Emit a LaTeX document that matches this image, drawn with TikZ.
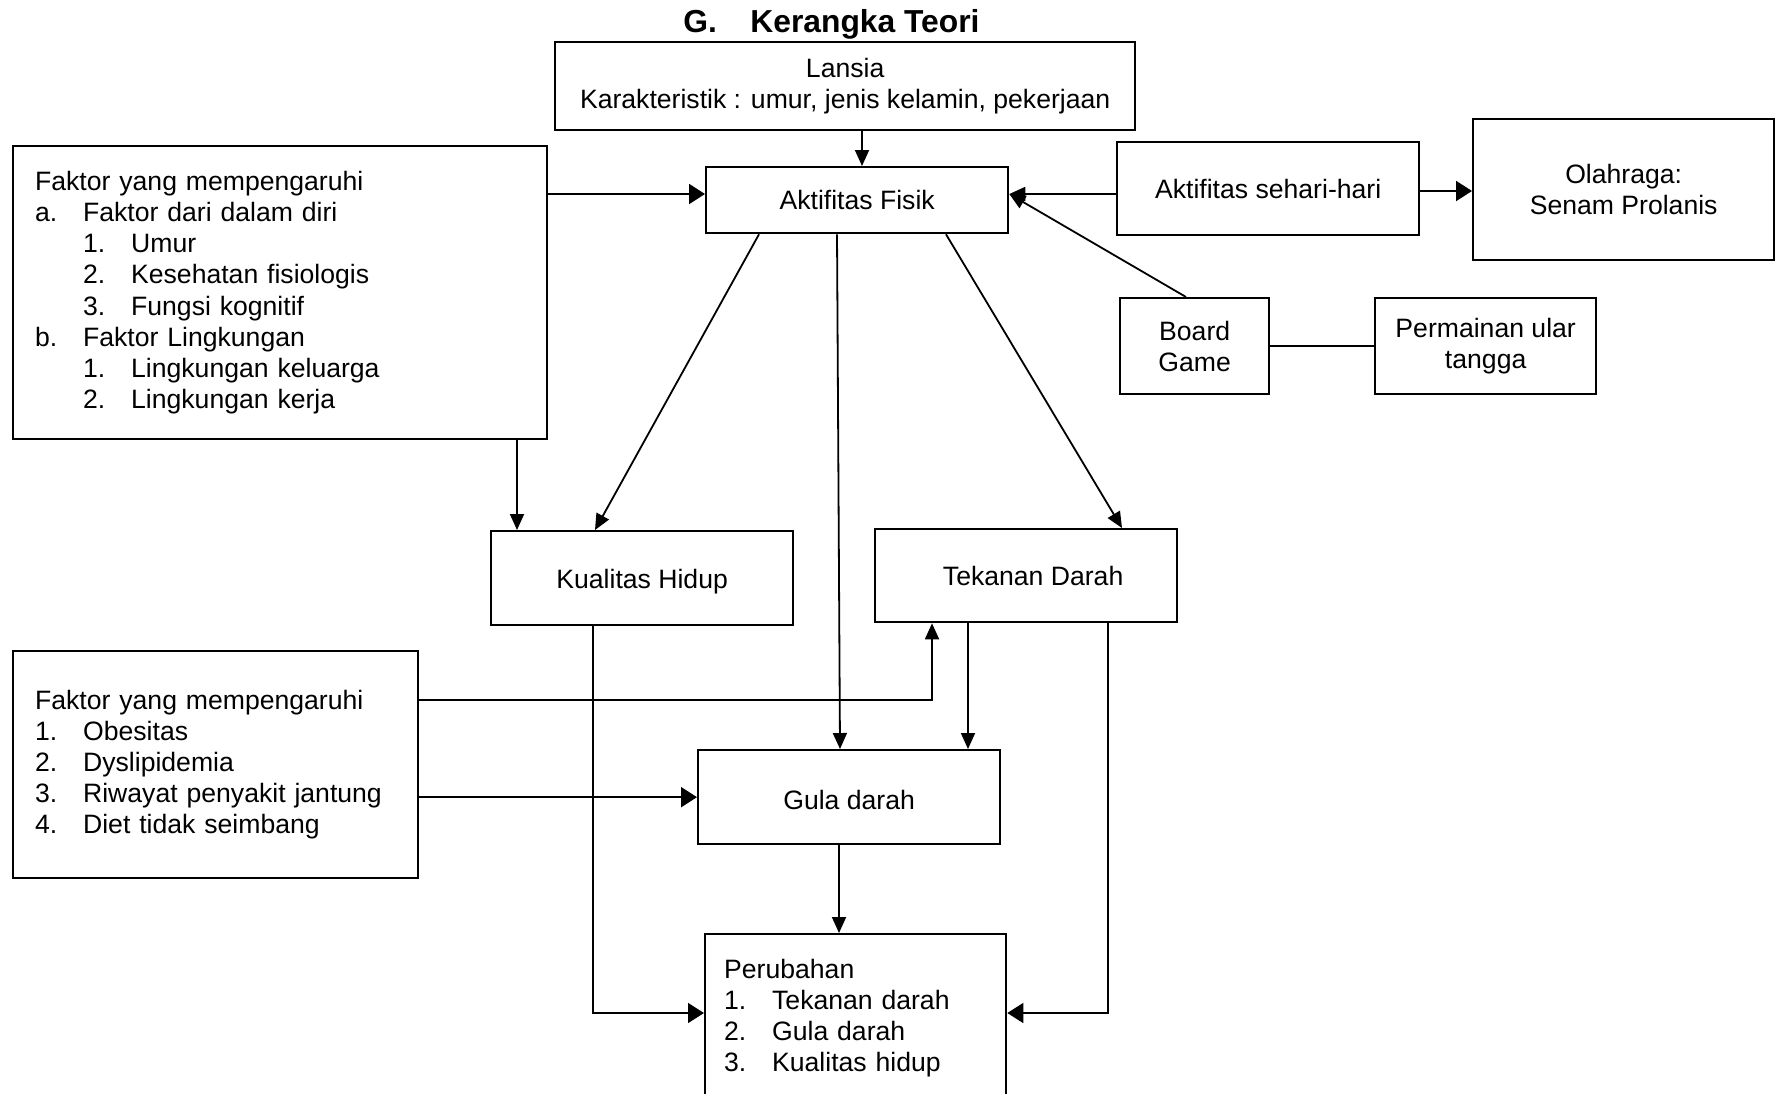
\documentclass[tikz,border=0pt]{standalone}
\usepackage{fontspec}
\setmainfont{Liberation Sans}
\usetikzlibrary{arrows.meta}
\newcommand\bodyfs{\fontsize{13.3pt}{15.6pt}\selectfont}
\newcommand\titlefs{\fontsize{15.9pt}{19pt}\selectfont}
\newcommand\lbl[1]{\makebox[24pt][l]{#1}}
\newcommand\ind{\hspace*{24pt}}
\begin{document}
\begin{tikzpicture}[x=0.5pt,y=-0.5pt,
  box/.style={draw, line width=1.15pt, rectangle, inner sep=0pt, anchor=north west, align=center, font=\bodyfs},
  lbox/.style={box, align=left, inner xsep=11pt},
  arr/.style={-{Triangle[length=8pt,width=7pt]}, line width=0.9pt},
  harr/.style={-{Triangle[length=8pt,width=10pt]}, line width=1pt},
  ln/.style={line width=0.9pt},
  thin/.style={line width=0.7pt},
  ttl/.style={anchor=base west, inner sep=0pt, font=\titlefs\bfseries}]
\clip (0,0) rectangle (1780,1093);
\fill[white] (0,0) rectangle (1780,1093);
% title
\node[ttl] (tg) at (683,32) {G.};
\node[ttl] (tk) at (750,32) {Kerangka Teori};
% boxes
\node[box, minimum width=290pt, minimum height=44pt] (lansia) at (554,41) {Lansia\\Karakteristik : umur, jenis kelamin, pekerjaan};
\node[box, minimum width=151pt, minimum height=33pt] (af) at (705,166) {Aktifitas Fisik};
\node[lbox, minimum width=267pt, minimum height=146.5pt, text width=245pt] (f1) at (12,145)
  {Faktor yang mempengaruhi\\
   \lbl{a.}Faktor dari dalam diri\\
   \ind\lbl{1.}Umur\\
   \ind\lbl{2.}Kesehatan fisiologis\\
   \ind\lbl{3.}Fungsi kognitif\\
   \lbl{b.}Faktor Lingkungan\\
   \ind\lbl{1.}Lingkungan keluarga\\
   \ind\lbl{2.}Lingkungan kerja};
\node[box, minimum width=151pt, minimum height=46.5pt] (as) at (1116,141) {Aktifitas sehari-hari};
\node[box, minimum width=150.5pt, minimum height=70.5pt] (ol) at (1472,118) {Olahraga:\\Senam Prolanis};
\node[box, minimum width=74.5pt, minimum height=48pt] (board) at (1119,297) {Board\\Game};
\node[box, minimum width=110.5pt, minimum height=48pt] (perm) at (1374,297) {Permainan ular\\tangga};
\node[box, minimum width=151pt, minimum height=47pt, text height=13.6pt, text depth=2.8pt] (kh) at (490,530) {Kualitas Hidup};
\node[box, minimum width=151pt, minimum height=46.5pt] (td) at (874,528) {\hspace*{7pt}Tekanan Darah};
\node[lbox, minimum width=202.5pt, minimum height=113.5pt, text width=180.5pt] (f2) at (12,650)
  {Faktor yang mempengaruhi\\
   \lbl{1.}Obesitas\\
   \lbl{2.}Dyslipidemia\\
   \lbl{3.}Riwayat penyakit jantung\\
   \lbl{4.}Diet tidak seimbang};
\node[box, minimum width=151pt, minimum height=47pt, text height=12pt, text depth=0pt] (gula) at (697,749) {Gula darah};
\node[lbox, inner xsep=9.5pt, minimum width=150.5pt, minimum height=84pt, text width=131.5pt] (perub) at (704,933)
  {Perubahan\\
   \lbl{1.}Tekanan darah\\
   \lbl{2.}Gula darah\\
   \lbl{3.}Kualitas hidup};
% helper coordinates
\coordinate (h1) at (0,194);
\coordinate (h2) at (0,191);
\coordinate (v0) at (862,0);
\coordinate (v1) at (517,0);
\coordinate (v2) at (968,0);
\coordinate (v3) at (839,0);
\coordinate (c1) at (932,700);
\coordinate (c2) at (593,1013);
\coordinate (c3) at (1108,1013);
% connectors
\draw[arr] (lansia.south -| v0) -- (af.north -| v0);
\draw[harr] (f1.east |- h1) -- (af.west |- h1);
\draw[arr] (as.west |- h1) -- (af.east |- h1);
\draw[arr] ([xshift=33.5pt]board.north west) -- (af.east |- h1);
\draw[harr] (as.east |- h2) -- (ol.west |- h2);
\draw[ln] (board.east) -- (perm.west |- board.east);
\draw[arr] (f1.south -| v1) -- (kh.north -| v1);
\draw[arr] ([xshift=27pt]af.south west) -- ([xshift=52.5pt]kh.north west);
\draw[arr] ([xshift=66pt]af.south west) -- ([xshift=71.5pt]gula.north west);
\draw[arr] ([xshift=120.5pt]af.south west) -- ([xshift=124pt]td.north west);
\draw[arr] (f2.east |- c1) -| (td.south -| c1);
\draw[harr] (f2.east |- gula.west) -- (gula.west);
\draw[arr] (td.south -| v2) -- (gula.north -| v2);
\draw[arr] (gula.south -| v3) -- (perub.north -| v3);
\draw[harr, thin] (kh.south -| c2) |- (perub.west |- c2);
\draw[harr, thin] (td.south -| c3) |- (perub.east |- c3);
\end{tikzpicture}
\end{document}
